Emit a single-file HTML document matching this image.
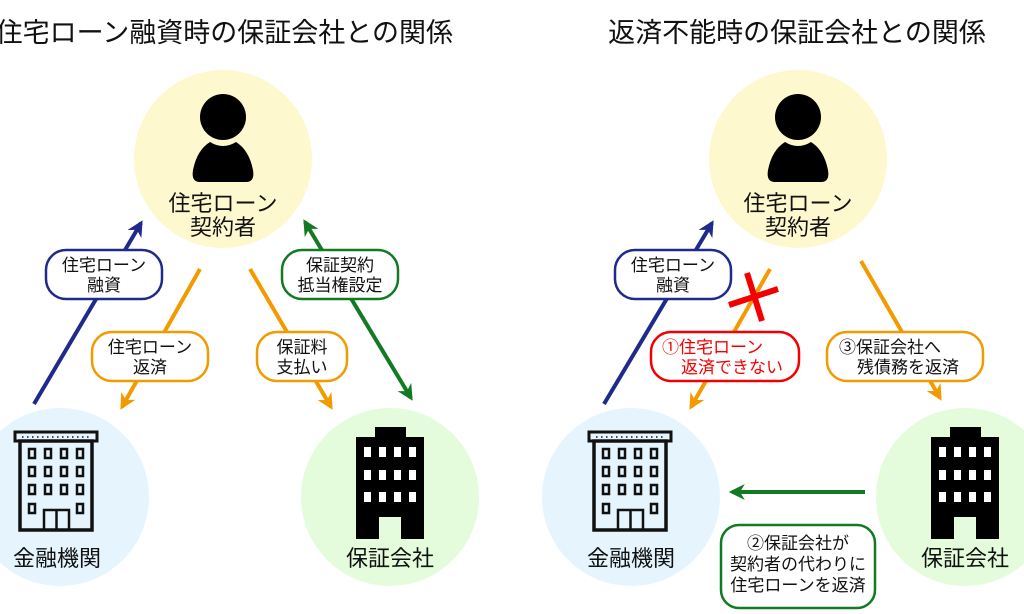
<!DOCTYPE html>
<html><head><meta charset="utf-8"><style>
html,body{margin:0;padding:0;background:#fff;}
svg{display:block;font-family:"Liberation Sans","Noto Sans CJK JP",sans-serif;}
</style></head><body>
<svg width="1024" height="614" viewBox="0 0 1024 614" xmlns="http://www.w3.org/2000/svg">
<defs>
<marker id="mb" viewBox="0 0 10 10" refX="8" refY="5" markerWidth="4" markerHeight="4" orient="auto-start-reverse" markerUnits="strokeWidth"><path d="M0,0 L10,5 L0,10 L3,5 Z" fill="#1f2a8a"/></marker>
<marker id="mo" viewBox="0 0 10 10" refX="8" refY="5" markerWidth="4" markerHeight="4" orient="auto-start-reverse" markerUnits="strokeWidth"><path d="M0,0 L10,5 L0,10 L3,5 Z" fill="#f29a00"/></marker>
<marker id="mg" viewBox="0 0 10 10" refX="8" refY="5" markerWidth="4" markerHeight="4" orient="auto-start-reverse" markerUnits="strokeWidth"><path d="M0,0 L10,5 L0,10 L3,5 Z" fill="#127a22"/></marker>
<g id="bank">
 <rect x="15" y="432" width="82" height="9" fill="none" stroke="#111" stroke-width="3"/>
 <rect x="20" y="441" width="72" height="89" fill="none" stroke="#111" stroke-width="3.5"/>
 <g fill="none" stroke="#111" stroke-width="2.5">
  <rect x="29" y="449" width="6" height="9"/><rect x="45" y="449" width="6" height="9"/><rect x="61" y="449" width="6" height="9"/><rect x="77" y="449" width="6" height="9"/>
  <rect x="29" y="467" width="6" height="9"/><rect x="45" y="467" width="6" height="9"/><rect x="61" y="467" width="6" height="9"/><rect x="77" y="467" width="6" height="9"/>
  <rect x="29" y="485" width="6" height="9"/><rect x="45" y="485" width="6" height="9"/><rect x="61" y="485" width="6" height="9"/><rect x="77" y="485" width="6" height="9"/>
  <rect x="29" y="504" width="6" height="9"/><rect x="77" y="504" width="6" height="9"/>
  <path d="M44,530 V510 H69 V530 M56.5,510 V530"/>
 </g>
 <path d="M22,437 H92" stroke="#111" stroke-width="1.5" stroke-dasharray="1.5 3.5"/>
</g>
<g id="tower">
 <rect x="375" y="427" width="31" height="12" fill="#000"/>
 <path d="M356,437 H424 V539 H401 V517 H379 V539 H356 Z" fill="#000"/>
 <g fill="#fff">
  <rect x="364" y="447" width="7" height="10"/><rect x="379" y="447" width="7" height="10"/><rect x="394" y="447" width="7" height="10"/><rect x="409" y="447" width="7" height="10"/>
  <rect x="364" y="470" width="7" height="10"/><rect x="379" y="470" width="7" height="10"/><rect x="394" y="470" width="7" height="10"/><rect x="409" y="470" width="7" height="10"/>
  <rect x="364" y="492" width="7" height="10"/><rect x="379" y="492" width="7" height="10"/><rect x="394" y="492" width="7" height="10"/><rect x="409" y="492" width="7" height="10"/>
 </g>
</g>
<g id="person">
 <circle cx="223" cy="117" r="23" fill="#000"/>
 <path d="M200,182 Q191,182 193,170 Q197,150 210,142 Q223,150 236,142 Q249,150 253,170 Q255,182 246,182 Z" fill="#000"/>
</g>
</defs>

<text x="453" y="42" font-size="27" text-anchor="end" fill="#111">住宅ローン融資時の保証会社との関係</text>
<text x="797" y="42" font-size="27" text-anchor="middle" fill="#111">返済不能時の保証会社との関係</text>

<circle cx="223" cy="159" r="89" fill="#fdf8cd"/>
<circle cx="60" cy="497" r="89" fill="#e6f5fd"/>
<circle cx="390" cy="497" r="89" fill="#e4fbdc"/>
<use href="#person"/>
<text x="223" y="211" font-size="22" text-anchor="middle" fill="#111">住宅ローン</text>
<text x="223" y="235" font-size="22" text-anchor="middle" fill="#111">契約者</text>
<use href="#bank"/>
<use href="#tower"/>
<text x="57" y="566" font-size="22" text-anchor="middle" fill="#111">金融機関</text>
<text x="390" y="566" font-size="22" text-anchor="middle" fill="#111">保証会社</text>

<line x1="34" y1="404" x2="141" y2="223" stroke="#1f2a8a" stroke-width="4" marker-end="url(#mb)"/>
<line x1="200" y1="269" x2="122" y2="407" stroke="#f29a00" stroke-width="4" marker-end="url(#mo)"/>
<line x1="250" y1="269" x2="331" y2="407" stroke="#f29a00" stroke-width="4" marker-end="url(#mo)"/>
<line x1="305" y1="222" x2="411" y2="398" stroke="#127a22" stroke-width="4" marker-start="url(#mg)" marker-end="url(#mg)"/>

<rect x="46" y="250" width="116" height="49" rx="20" fill="#fff" stroke="#1f2a8a" stroke-width="2.5"/>
<text x="104" y="271" font-size="17" text-anchor="middle" fill="#111">住宅ローン</text>
<text x="104" y="291" font-size="17" text-anchor="middle" fill="#111">融資</text>
<rect x="92" y="332" width="116" height="49" rx="20" fill="#fff" stroke="#f29a00" stroke-width="2.5"/>
<text x="150" y="353" font-size="17" text-anchor="middle" fill="#111">住宅ローン</text>
<text x="150" y="373" font-size="17" text-anchor="middle" fill="#111">返済</text>
<rect x="257" y="332" width="90" height="49" rx="20" fill="#fff" stroke="#f29a00" stroke-width="2.5"/>
<text x="302" y="353" font-size="17" text-anchor="middle" fill="#111">保証料</text>
<text x="302" y="373" font-size="17" text-anchor="middle" fill="#111">支払い</text>
<rect x="282" y="250" width="116" height="49" rx="20" fill="#fff" stroke="#127a22" stroke-width="2.5"/>
<text x="340" y="271" font-size="17" text-anchor="middle" fill="#111">保証契約</text>
<text x="340" y="291" font-size="17" text-anchor="middle" fill="#111">抵当権設定</text>

<circle cx="798" cy="159" r="89" fill="#fdf8cd"/>
<circle cx="631" cy="497" r="89" fill="#e6f5fd"/>
<circle cx="965" cy="497" r="89" fill="#e4fbdc"/>
<use href="#person" transform="translate(575,0)"/>
<text x="798" y="211" font-size="22" text-anchor="middle" fill="#111">住宅ローン</text>
<text x="798" y="235" font-size="22" text-anchor="middle" fill="#111">契約者</text>
<use href="#bank" transform="translate(574,0)"/>
<use href="#tower" transform="translate(575,0)"/>
<text x="631" y="566" font-size="22" text-anchor="middle" fill="#111">金融機関</text>
<text x="965" y="566" font-size="22" text-anchor="middle" fill="#111">保証会社</text>

<line x1="604" y1="404" x2="712" y2="223" stroke="#1f2a8a" stroke-width="4" marker-end="url(#mb)"/>
<line x1="770" y1="269" x2="691" y2="407" stroke="#f29a00" stroke-width="4" marker-end="url(#mo)"/>
<line x1="861" y1="261" x2="940" y2="398" stroke="#f29a00" stroke-width="4" marker-end="url(#mo)"/>
<line x1="865" y1="492" x2="732" y2="492" stroke="#127a22" stroke-width="4" marker-end="url(#mg)"/>

<line x1="729" y1="305" x2="778" y2="289" stroke="#f40000" stroke-width="6"/>
<line x1="747" y1="273" x2="762" y2="321" stroke="#f40000" stroke-width="6"/>

<rect x="615" y="250" width="116" height="49" rx="20" fill="#fff" stroke="#1f2a8a" stroke-width="2.5"/>
<text x="673" y="271" font-size="17" text-anchor="middle" fill="#111">住宅ローン</text>
<text x="673" y="291" font-size="17" text-anchor="middle" fill="#111">融資</text>
<rect x="651" y="332" width="148" height="49" rx="20" fill="#fff" stroke="#f40000" stroke-width="2.5"/>
<text font-size="17" fill="#f40000"><tspan x="662" y="353">①住宅ローン</tspan><tspan x="681" y="373">返済できない</tspan></text>
<rect x="827" y="332" width="156" height="49" rx="20" fill="#fff" stroke="#f29a00" stroke-width="2.5"/>
<text font-size="17" fill="#111"><tspan x="839" y="353">③保証会社へ</tspan><tspan x="857" y="373">残債務を返済</tspan></text>
<rect x="721" y="525" width="154" height="83" rx="18" fill="#fff" stroke="#127a22" stroke-width="2.5"/>
<text x="798" y="549" font-size="17" text-anchor="middle" fill="#111">②保証会社が</text>
<text x="798" y="570" font-size="17" text-anchor="middle" fill="#111">契約者の代わりに</text>
<text x="798" y="591" font-size="17" text-anchor="middle" fill="#111">住宅ローンを返済</text>
</svg>
</body></html>
